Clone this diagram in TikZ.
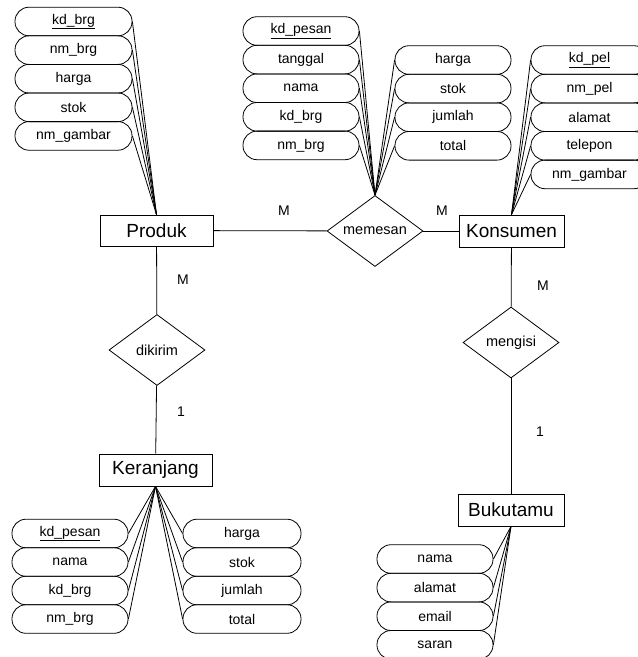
\documentclass[tikz,border=0pt]{standalone}
\usepackage{fontspec}
\setmainfont{Liberation Sans}
\usepackage{tikz}
\usetikzlibrary{shapes,shapes.geometric}
\tikzset{>=stealth}
\tikzset{
  entitas/.style={draw, rectangle, inner sep=0pt, minimum width=110pt, minimum height=32pt, font=\fontsize{19}{21}\selectfont},
  atribut/.style={draw, rectangle, rounded corners=14pt, inner sep=0pt, minimum width=116pt, minimum height=28.6pt, font=\fontsize{14}{16}\selectfont},
  relasi/.style={draw, diamond, aspect=1.35, inner sep=0pt, minimum width=96pt, minimum height=71pt, font=\fontsize{14.5}{16}\selectfont},
  kardinal/.style={font=\fontsize{14}{16}\selectfont},
  garis/.style={line width=0.8pt}
}

\begin{document}
\begin{tikzpicture}[x=1pt, y=-1pt, line width=0.8pt]
      \useasboundingbox (0,0) rectangle (638,657);
      % entitas
      \node[entitas, minimum width=113pt, minimum height=31pt] (produk) at (156.5,230.5) {Produk};
      \node[entitas, minimum width=105pt] (konsumen) at (511.5,231) {Konsumen};
      \node[entitas, minimum width=113pt] (keranjang) at (155.5,470) {Keranjang};
      \node[entitas, minimum width=106pt] (bukutamu) at (511,510) {Bukutamu};
      % relasi
      \node[relasi] (memesan) at (375,231) {memesan};
      \node[relasi] (dikirim) at (157,350) {dikirim};
      \node[relasi] (mengisi) at (511,342.5) {mengisi};
      \draw (produk) -- (memesan) ;
      \draw (memesan) -- (konsumen) ;
      \draw (produk) -- (dikirim) ;
      \draw (dikirim) -- (keranjang) ;
      \draw (konsumen) -- (mengisi) ;
      \draw (mengisi) -- (bukutamu) ;
      \node[kardinal] (m1) at (284,211) {M};
      \node[kardinal] (m2) at (442,211) {M};
      \node[kardinal] (m3) at (183,280) {M};
      \node[kardinal] (m4) at (543,286) {M};
      \node[kardinal] (s1) at (181,412) {1};
      \node[kardinal] (s2) at (540,432) {1};
      % atribut produk
      \node[atribut, minimum width=117pt] (pkd) at (73.5,21.5) {\underline{kd\_brg}};
      \node[atribut, minimum width=117pt] (pnm) at (73.5,50.1) {nm\_brg};
      \node[atribut, minimum width=117pt] (pharga) at (73.5,78.7) {harga};
      \node[atribut, minimum width=117pt] (pstok) at (73.5,107.3) {stok};
      \node[atribut, minimum width=117pt] (pgambar) at (73.5,135.9) {nm\_gambar};
      \draw (pkd.east) -- (produk.north) ;
      \draw (pnm.east) -- (produk.north) ;
      \draw (pharga.east) -- (produk.north) ;
      \draw (pstok.east) -- (produk.north) ;
      \draw (pgambar.east) -- (produk.north) ;
      % atribut memesan
      \node[atribut] (mkd) at (301,31) {\underline{kd\_pesan}};
      \node[atribut] (mtgl) at (301,59.6) {tanggal};
      \node[atribut] (mnama) at (301,88.2) {nama};
      \node[atribut] (mbrg) at (301,116.8) {kd\_brg};
      \node[atribut] (mnm) at (301,145.4) {nm\_brg};
      \node[atribut] (mharga) at (453,60) {harga};
      \node[atribut] (mstok) at (453,88.6) {stok};
      \node[atribut] (mjml) at (453,117.2) {jumlah};
      \node[atribut] (mtotal) at (453,145.8) {total};
      \draw (mkd.east) -- (memesan.north) ;
      \draw (mtgl.east) -- (memesan.north) ;
      \draw (mnama.east) -- (memesan.north) ;
      \draw (mbrg.east) -- (memesan.north) ;
      \draw (mnm.east) -- (memesan.north) ;
      \draw (mharga.west) -- (memesan.north) ;
      \draw (mstok.west) -- (memesan.north) ;
      \draw (mjml.west) -- (memesan.north) ;
      \draw (mtotal.west) -- (memesan.north) ;
      % atribut konsumen
      \node[atribut, minimum width=117pt] (kkd) at (589.5,60) {\underline{kd\_pel}};
      \node[atribut, minimum width=117pt] (knm) at (589.5,88.6) {nm\_pel};
      \node[atribut, minimum width=117pt] (kalamat) at (589.5,117.2) {alamat};
      \node[atribut, minimum width=117pt] (ktelp) at (589.5,145.8) {telepon};
      \node[atribut, minimum width=117pt] (kgambar) at (589.5,174.4) {nm\_gambar};
      \draw (kkd.west) -- (konsumen.north) ;
      \draw (knm.west) -- (konsumen.north) ;
      \draw (kalamat.west) -- (konsumen.north) ;
      \draw (ktelp.west) -- (konsumen.north) ;
      \draw (kgambar.west) -- (konsumen.north) ;
      % atribut keranjang
      \node[atribut] (rkd) at (70,533.5) {\underline{kd\_pesan}};
      \node[atribut] (rnama) at (70,562) {nama};
      \node[atribut] (rbrg) at (70,590.5) {kd\_brg};
      \node[atribut] (rnm) at (70,619) {nm\_brg};
      \node[atribut, minimum width=118pt] (rharga) at (242,533.5) {harga};
      \node[atribut, minimum width=118pt] (rstok) at (242,562) {stok};
      \node[atribut, minimum width=118pt] (rjml) at (242,590.5) {jumlah};
      \node[atribut, minimum width=118pt] (rtotal) at (242,619) {total};
      \draw (rkd.east) -- (keranjang.south) ;
      \draw (rnama.east) -- (keranjang.south) ;
      \draw (rbrg.east) -- (keranjang.south) ;
      \draw (rnm.east) -- (keranjang.south) ;
      \draw (rharga.west) -- (keranjang.south) ;
      \draw (rstok.west) -- (keranjang.south) ;
      \draw (rjml.west) -- (keranjang.south) ;
      \draw (rtotal.west) -- (keranjang.south) ;
      % atribut bukutamu
      \node[atribut] (bnama) at (435,559) {nama};
      \node[atribut] (balamat) at (435,587.6) {alamat};
      \node[atribut] (bemail) at (435,616.2) {email};
      \node[atribut] (bsaran) at (435,644.8) {saran};
      \draw (bnama.east) -- (bukutamu.south) ;
      \draw (balamat.east) -- (bukutamu.south) ;
      \draw (bemail.east) -- (bukutamu.south) ;
      \draw (bsaran.east) -- (bukutamu.south) ;
    \end{tikzpicture}
\end{document}
